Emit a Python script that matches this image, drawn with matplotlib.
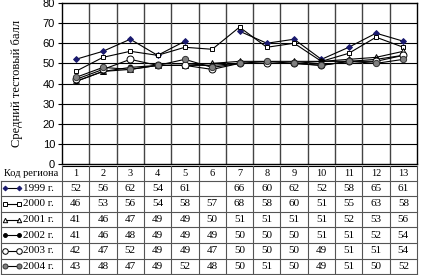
import matplotlib
matplotlib.use("Agg")
import matplotlib.pyplot as plt
import numpy as np

regions = [str(i) for i in range(1, 14)]
years = ["1999 г.", "2000 г.", "2001 г.", "2002 г.", "2003 г.", "2004 г."]
y1999 = [52, 56, 62, 54, 61, None, 66, 60, 62, 52, 58, 65, 61]
y2000 = [46, 53, 56, 54, 58, 57, 68, 58, 60, 51, 55, 63, 58]
y2001 = [41, 46, 47, 49, 49, 50, 51, 51, 51, 51, 52, 53, 56]
y2002 = [41, 46, 48, 49, 49, 49, 50, 50, 50, 51, 51, 52, 54]
y2003 = [42, 47, 52, 49, 49, 47, 50, 50, 50, 49, 51, 51, 54]
y2004 = [43, 48, 47, 49, 52, 48, 50, 51, 50, 49, 51, 50, 52]
series = [y1999, y2000, y2001, y2002, y2003, y2004]
yticks = [0, 10, 20, 30, 40, 50, 60, 70, 80]
ylabel = "Средний тестовый балл"
rowhead = "Код региона"

styles = [
    dict(marker="D", ms=3, mfc="#1a1a6e", mec="#1a1a6e"),
    dict(marker="s", ms=3.5, mfc="white", mec="black"),
    dict(marker="^", ms=4, mfc="white", mec="black"),
    dict(marker="o", ms=3.5, mfc="black", mec="black"),
    dict(marker="o", ms=5, mfc="white", mec="black"),
    dict(marker="o", ms=4.5, mfc="#808080", mec="#333333"),
]

W, H = 421, 275
fig = plt.figure(figsize=(W / 100, H / 100), dpi=100)
serif = "Liberation Serif"

L, R, T, B = 62, 417, 3, 164
ax = fig.add_axes([L / W, 1 - B / H, (R - L) / W, (B - T) / H])
x = np.arange(1, 14)
for s, st in zip(series, styles):
    yv = np.array([np.nan if v is None else v for v in s], dtype=float)
    ax.plot(x, yv, color="black", lw=0.8, mew=0.7, zorder=3, **st)
ax.set_xlim(0.5, 13.5)
ax.set_ylim(0, 80)
ax.set_yticks(yticks)
ax.set_yticklabels([str(t) for t in yticks], fontsize=8, family="Liberation Sans")
ax.set_xticks([])
for v in yticks[1:-1]:
    ax.axhline(v, color="black", lw=0.8, zorder=1)
for k in range(1, 13):
    ax.axvline(k + 0.5, color="#444444", lw=1.0, zorder=1)
for sp in ax.spines.values():
    sp.set_linewidth(1.0)
ax.tick_params(axis="y", length=3, width=0.8, pad=2)
ax.set_ylabel(ylabel, family=serif, fontsize=9, labelpad=14)

# table
tx = fig.add_axes([0, 0, 1, 1])
tx.set_xlim(0, W)
tx.set_ylim(H, 0)
tx.axis("off")
colw = (R - L) / 13
top = 166
first = 180.5
rh = 15.6
rows_y = [first + i * rh for i in range(7)]
hc = (top + first) / 2
tx.text(31, hc, rowhead, family=serif, fontsize=7.5, ha="center", va="center")
for j, r in enumerate(regions):
    tx.text(L + colw * (j + 0.5), hc, r, family=serif, fontsize=7.5, ha="center", va="center")
tx.plot([L, R], [top, top], color="black", lw=0.8)
for yy in rows_y[:-1]:
    tx.plot([1, R], [yy, yy], color="#555555", lw=0.8)
tx.plot([1, R], [H - 1, H - 1], color="#555555", lw=0.8)
for j in range(14):
    xx = L + colw * j
    tx.plot([xx, xx], [top, H - 1], color="#555555", lw=0.8)
tx.plot([1, 1], [rows_y[0], H - 1], color="#555555", lw=0.8)

for i, (s, st, yl) in enumerate(zip(series, styles, years)):
    cy = rows_y[i] + rh / 2
    st2 = dict(st)
    st2["ms"] = st["ms"] * 0.8
    tx.plot([5, 19], [cy, cy], color="black", lw=0.8, mew=0.7, **st2)
    tx.text(23, cy, yl, family=serif, fontsize=8, ha="left", va="center")
    for j, v in enumerate(s):
        if v is not None:
            tx.text(L + colw * (j + 0.5), cy, str(v), family=serif, fontsize=8, ha="center", va="center")

fig.savefig("out.png", dpi=100)
